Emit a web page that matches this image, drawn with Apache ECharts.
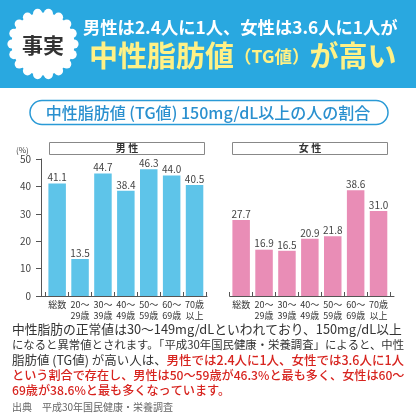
<!DOCTYPE html>
<html><head><meta charset="utf-8">
<script src="https://cdn.jsdelivr.net/npm/echarts@6/dist/echarts.min.js"></script>
<style>html,body{margin:0;padding:0;background:#fff}#c{width:416px;height:416px}</style>
</head><body><div id="c"></div>
<script>
// ---- data ----
const categories = ['総数','20～\n29歳','30～\n39歳','40～\n49歳','50～\n59歳','60～\n69歳','70歳\n以上'];
const maleValues = [41.1, 13.5, 44.7, 38.4, 46.3, 44.0, 40.5];
const femaleValues = [27.7, 16.9, 16.5, 20.9, 21.8, 38.6, 31.0];
const yMin = 0, yMax = 50, yInterval = 10;
const maleTitle = '男 性';
const femaleTitle = '女 性';
const badgeText = '事実';
const headline1 = '男性は2.4人に1人、女性は3.6人に1人が';
const headline2 = ['中性脂肪値', '（TG値）', 'が高い'];
const pillText = '中性脂肪値 (TG値) 150mg/dL以上の人の割合';
const bodyLines = [
  [['n','中性脂肪の正常値は30～149mg/dLといわれており、150mg/dL以上']],
  [['n','になると異常値とされます。「平成30年国民健康・栄養調査」によると、中性']],
  [['n','脂肪値 (TG値) が高い人は、'],['r','男性では2.4人に1人、女性では3.6人に1人']],
  [['r','という割合で存在し、男性は50～59歳が46.3%と最も多く、女性は60～']],
  [['r','69歳が38.6%と最も多くなっています。']]
];
const sourceText = '出典　平成30年国民健康・栄養調査';

// ---- styles ----
const FF = '"Noto Sans CJK JP","Noto Sans CJK SC",sans-serif';
const BLUE = '#29a8e0', MALE = '#5ec4e9', FEMALE = '#e98db6', AX = '#555';
const mctx = document.createElement('canvas').getContext('2d');
function fit(text, weight, target, base){ mctx.font = weight+' '+base+'px '+FF; return base*target/mctx.measureText(text).width; }

const chart = echarts.init(document.getElementById('c'), null, {renderer:'canvas'});

const top0 = 159, h0 = 137;
const graphic = [];
graphic.push({type:'rect', shape:{x:0,y:0,width:416,height:88}, style:{fill:BLUE}, z:-10});
// badge
const bc = [43,44];
const nb = 18;
for (let i=0;i<nb;i++){
  const a = i/nb*Math.PI*2;
  graphic.push({type:'circle', shape:{cx:bc[0]+31*Math.cos(a), cy:bc[1]+31*Math.sin(a), r:4.6}, style:{fill:'#fff'}});
}
graphic.push({type:'circle', shape:{cx:bc[0], cy:bc[1], r:31.5}, style:{fill:'#fff'}});
graphic.push({type:'text', x:bc[0], y:bc[1]+1, style:{text:badgeText, fill:'#333', font:'bold 21px '+FF, align:'center', verticalAlign:'middle'}});
// headline
const h1s = fit(headline1,'bold',315,17);
graphic.push({type:'text', x:83, y:27, style:{text:headline1, fill:'#fff', font:'bold '+h1s+'px '+FF, align:'left', verticalAlign:'middle'}});
graphic.push({type:'text', x:89, y:56, style:{
  text:'{a|'+headline2[0]+'}{b|'+headline2[1]+'}{a|'+headline2[2]+'}',
  align:'left', verticalAlign:'middle',
  rich:{a:{fontSize:29, fontWeight:'bold', fontFamily:FF, fill:'#fff186', color:'#fff186'},
        b:{fontSize:17.5, fontWeight:'bold', fontFamily:FF, fill:'#fff186', color:'#fff186'}}
}});
// pill
graphic.push({type:'rect', shape:{x:30,y:100.5,width:358,height:24,r:12}, style:{fill:'#fff', stroke:'#2a9ad6', lineWidth:1.5}});
const ps = fit(pillText,'500',325,15);
graphic.push({type:'text', x:208, y:113, style:{text:pillText, fill:'#2a90cf', font:'500 '+ps+'px '+FF, align:'center', verticalAlign:'middle'}});
// panel titles
graphic.push({type:'rect', shape:{x:49.5,y:142.5,width:155,height:12}, style:{fill:'#fff', stroke:'#888', lineWidth:1}});
graphic.push({type:'text', x:127, y:148.5, style:{text:maleTitle, fill:'#333', font:'bold 10px '+FF, align:'center', verticalAlign:'middle'}});
graphic.push({type:'rect', shape:{x:232.5,y:142.5,width:155,height:12}, style:{fill:'#fff', stroke:'#888', lineWidth:1}});
graphic.push({type:'text', x:310, y:148.5, style:{text:femaleTitle, fill:'#333', font:'bold 10px '+FF, align:'center', verticalAlign:'middle'}});
graphic.push({type:'text', x:16, y:150, style:{text:'(%)', fill:'#444', font:'8px '+FF, align:'left', verticalAlign:'middle'}});
// body text
const bodyY = [329,345,360,375,390];
let lastSize = 13.5;
bodyLines.forEach((ln,i)=>{
  const full = ln.map(s=>s[1]).join('');
  let sz = (i<4) ? fit(full,'500',393,13.5) : lastSize;
  lastSize = sz;
  graphic.push({type:'text', x:12, y:bodyY[i], style:{
    text: ln.map(s=>'{'+s[0]+'|'+s[1]+'}').join(''),
    align:'left', verticalAlign:'middle',
    rich:{n:{fontSize:sz, fontFamily:FF, fill:'#333', color:'#333'},
          r:{fontSize:sz, fontWeight:500, fontFamily:FF, fill:'#d7231e', color:'#d7231e'}}
  }});
});
graphic.push({type:'text', x:12, y:407, style:{text:sourceText, fill:'#666', font:'10px '+FF, align:'left', verticalAlign:'middle'}});

const catAxis = (gi)=>({type:'category', gridIndex:gi, data:categories,
  axisLine:{show:false}, axisTick:{show:true, inside:true, length:4, lineStyle:{color:AX}},
  axisLabel:{interval:0, fontSize:9, lineHeight:11, margin:3, color:'#333', fontFamily:FF}});
const lineAxis = (gi)=>({type:'value', gridIndex:gi, min:0, max:1, axisLine:{show:true, onZero:false, lineStyle:{color:AX, width:1}},
  axisTick:{show:false}, axisLabel:{show:false}, splitLine:{show:false}});
const hiddenY = (gi)=>({type:'value', gridIndex:gi, min:yMin, max:yMax, interval:yInterval, show:false, splitLine:{show:false}});
const lbl = {show:true, position:'top', distance:1, fontSize:10, color:'#444', fontFamily:FF, formatter:p=>p.value.toFixed(1)};

chart.setOption({
  animation:false,
  backgroundColor:'#fff',
  graphic: graphic,
  grid:[
    {left:41, top:top0, width:166, height:h0},
    {left:45.7, top:top0, width:160.3, height:h0},
    {left:229.7, top:top0, width:164.3, height:h0},
    {left:229.7, top:top0, width:160.3, height:h0}
  ],
  xAxis:[lineAxis(0), catAxis(1), lineAxis(2), catAxis(3)],
  yAxis:[
    {type:'value', gridIndex:0, min:yMin, max:yMax, interval:yInterval,
     axisLine:{show:true, lineStyle:{color:AX}}, axisTick:{show:true, length:5, lineStyle:{color:AX}},
     axisLabel:{fontSize:10, color:'#444', margin:10, fontFamily:FF}, splitLine:{show:false}},
    hiddenY(1), hiddenY(2), hiddenY(3)
  ],
  series:[
    {type:'bar', xAxisIndex:1, yAxisIndex:1, data:maleValues, barWidth:17.5, itemStyle:{color:MALE}, label:lbl},
    {type:'bar', xAxisIndex:3, yAxisIndex:3, data:femaleValues, barWidth:17.5, itemStyle:{color:FEMALE}, label:lbl}
  ]
});
</script></body></html>
